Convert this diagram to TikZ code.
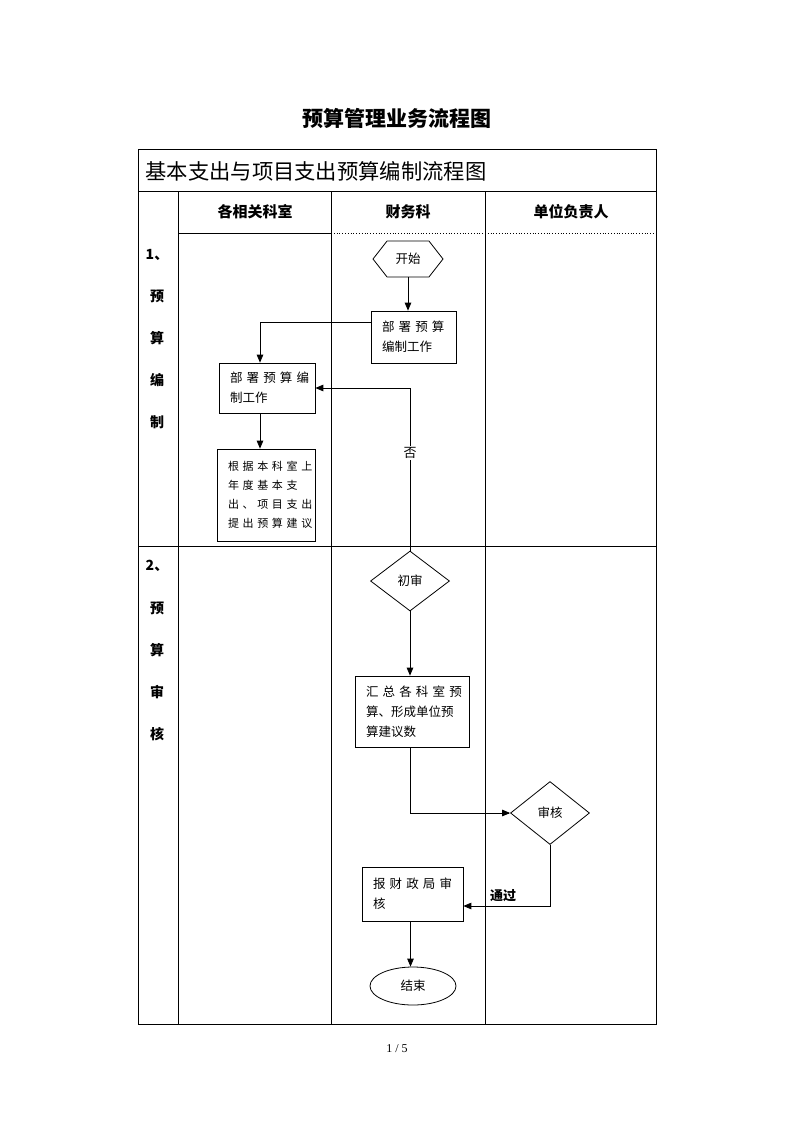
\documentclass[tikz,border=0pt]{standalone}
\usepackage{fontspec}
\setmainfont{Noto Sans CJK SC}
\newfontfamily\pagefont{Liberation Serif}
\usepackage{tikz}
\usetikzlibrary{shapes}
\usetikzlibrary{arrows}
\usetikzlibrary{positioning}
\newcommand{\spreadline}[1]{\makebox[\linewidth][s]{#1}}
\tikzstyle{frame} = [draw, line width=0.9pt]
\tikzstyle{heading} = [font={\fontsize{21}{24}\selectfont\bfseries}]
\tikzstyle{lanehead} = [font={\fontsize{15}{17}\selectfont\bfseries}]
\tikzstyle{phase} = [font={\fontsize{14}{16}\selectfont\bfseries}]
\tikzstyle{task} = [draw, rectangle, line width=0.8pt, align=left, inner xsep=11pt,
        inner ysep=0pt, font={\fontsize{12.5}{20}\selectfont}]
\tikzstyle{decision} = [draw, diamond, line width=0.8pt, inner sep=0pt,
        font={\fontsize{12.5}{15}\selectfont}]
\tikzstyle{terminal} = [draw, ellipse, line width=0.8pt, inner sep=0pt,
        minimum width=86pt, minimum height=38pt, font={\fontsize{12.5}{15}\selectfont}]
\tikzstyle{flow} = [->, >=triangle 45, line width=0.8pt]
\tikzstyle{comment} = [font={\fontsize{13}{15}\selectfont}, fill=white, inner sep=1pt]
\begin{document}
\begin{tikzpicture}[x=1pt,y=-1pt]
\useasboundingbox (0,0) rectangle (793,1122);
% titles
\node[heading] (title) at (397,118) {预算管理业务流程图};
\draw[frame] (138,149) rectangle (656,1024);
\draw[frame] (138,191) -- (656,191);
\draw[frame] (138,546) -- (656,546);
\draw[frame] (178,191) -- (178,1024);
\draw[frame] (331,191) -- (331,1024);
\draw[frame] (485,191) -- (485,1024);
\draw[frame] (178,233) -- (331,233);
\draw[line width=0.8pt, dotted] (331,233) -- (656,233);
\node[anchor=west, font={\fontsize{21.3}{24}\selectfont}] (tabletitle) at (142,171)
        {基本支出与项目支出预算编制流程图};
\node[lanehead] (dept) at (255,212) {各相关科室};
\node[lanehead] (fin) at (408,212) {财务科};
\node[lanehead] (head) at (571,212) {单位负责人};
\foreach \t [count=\i] in {1、,预,算,编,制}
        \node[phase] (compile\i) at (157,255+41.8*\i-41.8) {\t};
\foreach \t [count=\i] in {2、,预,算,审,核}
        \node[phase] (review\i) at (157,566+42*\i-42) {\t};
% nodes
\node[draw, signal, signal to=east and west, signal pointer angle=104, line width=0.8pt,
        minimum width=70pt, minimum height=36pt, inner sep=0pt,
        font={\fontsize{12.5}{15}\selectfont}] (start) at (408,259) {开始};
\node[task, text width=63pt, minimum height=52pt] (fin1) at (413.5,337)
        {\spreadline{部 署 预 算}\\编制工作};
\node[task, text width=74pt, minimum height=50pt] (dept1) at (267,388)
        {\spreadline{部 署 预 算 编}\\制工作};
\node[task, text width=76pt, minimum height=92pt, font={\fontsize{11}{19}\selectfont}] (dept2) at (266,495)
        {\spreadline{根 据 本 科 室 上}\\\spreadline{年 度 基 本 支}\\\spreadline{出 、 项 目 支 出}\\\spreadline{提 出 预 算 建 议}};
\node[decision, minimum width=79pt, minimum height=60pt] (check) at (410,581) {初审};
\node[task, text width=92pt, minimum height=71pt] (fin2) at (412,711.5)
        {\spreadline{汇 总 各 科 室 预}\\\spreadline{算、形成单位预}\\算建议数};
\node[decision, minimum width=79pt, minimum height=63pt] (audit) at (550,813) {审核};
\node[task, text width=79pt, minimum height=54pt] (fin3) at (412.5,894)
        {\spreadline{报 财 政 局 审}\\核};
\node[terminal] (end) at (413,986) {结束};
% connectors
\draw[flow] (start.south) -- (start.south |- fin1.north);
\draw[flow] ([yshift=15pt]fin1.west) -| ([xshift=-7pt]dept1.north);
\draw[flow] ([xshift=-7pt]dept1.south) -- ([xshift=-7pt]dept1.south |- dept2.north);
\draw[flow] (check.north) |- node[comment, pos=0.3] {否} (dept1.east);
\draw[flow] (check.south) -- (check.south |- fin2.north);
\draw[flow] ([xshift=-2pt]fin2.south) |- (audit.west);
\draw[flow] (audit.south) |- node[comment, pos=0.77, anchor=south, fill=none, yshift=3pt,
        font={\fontsize{13}{15}\selectfont\bfseries}] {通过} ([yshift=-12pt]fin3.east);
\draw[flow] ([xshift=-2pt]fin3.south) -- ([xshift=-2pt]fin3.south |- end.north);
% page number
\node[font={\pagefont\fontsize{12}{14}\selectfont}] (page) at (397,1049) {1 / 5};
\end{tikzpicture}
\end{document}
